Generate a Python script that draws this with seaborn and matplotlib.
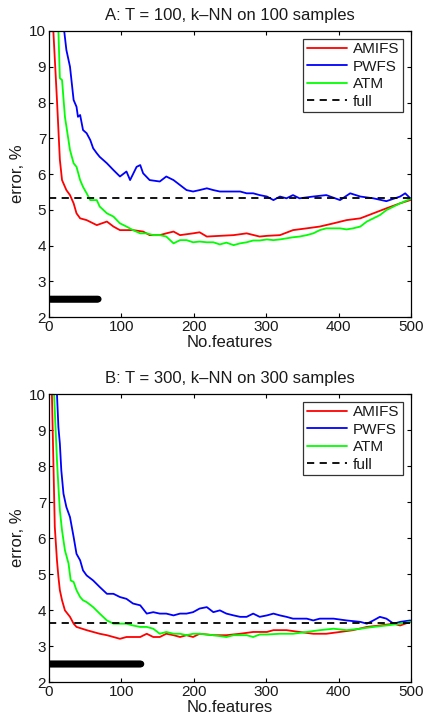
import numpy as np
import pandas as pd
import matplotlib
matplotlib.use("Agg")
import matplotlib.pyplot as plt
import seaborn as sns

# ---------------- Panel A data ----------------
a_amifs_x = [6, 11, 15, 18, 24, 29, 34, 38, 43, 52, 61, 66, 80, 89, 98, 116, 130, 139, 153, 162, 172, 181,
             199, 208, 218, 236, 255, 273, 291, 301, 319, 337, 356, 374, 393, 411, 430, 448, 466, 485, 499]
a_amifs_y = [10.0, 8.07, 6.4, 5.83, 5.55, 5.41, 5.18, 4.9, 4.76, 4.71, 4.62, 4.57, 4.67, 4.53, 4.43, 4.43, 4.39,
             4.29, 4.29, 4.34, 4.39, 4.29, 4.34, 4.37, 4.25, 4.27, 4.29, 4.34, 4.25, 4.27, 4.29, 4.43, 4.48,
             4.53, 4.62, 4.71, 4.76, 4.9, 5.04, 5.18, 5.27]

a_pwfs_x = [21, 24, 29, 34, 38, 40, 43, 47, 52, 57, 61, 66, 70, 80, 89, 98, 107, 112, 121, 126, 130, 139, 153,
            162, 172, 181, 190, 199, 208, 218, 227, 236, 245, 255, 264, 273, 282, 291, 301, 310, 319, 328, 337,
            346, 365, 383, 402, 416, 430, 448, 466, 485, 492, 499]
a_pwfs_y = [10.0, 9.47, 9.0, 8.07, 7.88, 7.6, 7.65, 7.23, 7.14, 6.95, 6.72, 6.58, 6.48, 6.3, 6.11, 5.93, 6.07,
            5.83, 6.2, 6.25, 6.02, 5.83, 5.79, 5.93, 5.83, 5.69, 5.55, 5.51, 5.55, 5.6, 5.55, 5.51, 5.51, 5.51,
            5.51, 5.46, 5.46, 5.41, 5.37, 5.27, 5.37, 5.32, 5.41, 5.32, 5.37, 5.41, 5.27, 5.46, 5.37, 5.32, 5.24,
            5.37, 5.46, 5.32]

a_atm_x = [13, 15, 18, 22, 29, 34, 38, 43, 47, 52, 57, 66, 70, 80, 89, 98, 107, 116, 126, 135, 144, 153, 162,
           172, 181, 190, 199, 208, 218, 227, 236, 245, 255, 264, 273, 282, 291, 301, 310, 319, 328, 337, 346,
           356, 365, 374, 383, 393, 402, 411, 420, 430, 439, 448, 457, 466, 476, 485, 499]
a_atm_y = [10.0, 8.68, 8.63, 7.6, 6.67, 6.3, 6.2, 5.83, 5.64, 5.46, 5.27, 5.27, 5.09, 4.9, 4.81, 4.62, 4.53,
           4.43, 4.34, 4.34, 4.29, 4.29, 4.25, 4.06, 4.15, 4.15, 4.09, 4.11, 4.09, 4.09, 4.03, 4.08, 4.01, 4.06,
           4.09, 4.14, 4.14, 4.17, 4.15, 4.17, 4.2, 4.23, 4.25, 4.29, 4.34, 4.43, 4.48, 4.48, 4.48, 4.45, 4.48,
           4.53, 4.67, 4.76, 4.85, 4.99, 5.09, 5.18, 5.3]

a_full = 5.32
a_sig_last = 68

# ---------------- Panel B data ----------------
b_amifs_x = [4, 6, 8, 11, 13, 15, 18, 22, 29, 34, 38, 52, 61, 70, 80, 89, 98, 107, 116, 126, 135, 144, 153,
             162, 172, 181, 190, 199, 208, 227, 245, 264, 282, 301, 310, 328, 346, 365, 383, 402, 420, 439,
             457, 476, 485, 499]
b_amifs_y = [10.0, 8.16, 6.31, 5.38, 4.92, 4.55, 4.27, 3.99, 3.81, 3.62, 3.53, 3.44, 3.39, 3.34, 3.3, 3.25,
             3.2, 3.25, 3.25, 3.25, 3.34, 3.25, 3.25, 3.34, 3.3, 3.25, 3.3, 3.25, 3.34, 3.3, 3.3, 3.34, 3.39,
             3.39, 3.44, 3.44, 3.39, 3.34, 3.34, 3.39, 3.44, 3.53, 3.57, 3.62, 3.57, 3.67]

b_pwfs_x = [11, 13, 15, 17, 20, 24, 29, 34, 38, 43, 47, 52, 61, 70, 80, 89, 98, 107, 116, 126, 135, 144, 153,
            162, 172, 181, 190, 199, 208, 218, 227, 236, 245, 255, 264, 273, 282, 291, 301, 310, 319, 328, 337,
            346, 356, 365, 374, 393, 411, 430, 439, 448, 457, 466, 476, 485, 499]
b_pwfs_y = [10.0, 9.08, 8.62, 7.88, 7.23, 6.86, 6.58, 6.03, 5.56, 5.38, 5.1, 4.96, 4.82, 4.64, 4.45, 4.45,
            4.36, 4.31, 4.18, 4.13, 3.9, 3.94, 3.9, 3.9, 3.85, 3.9, 3.9, 3.94, 4.04, 4.08, 3.94, 3.99, 3.9,
            3.85, 3.81, 3.81, 3.9, 3.81, 3.85, 3.9, 3.85, 3.81, 3.76, 3.76, 3.76, 3.71, 3.76, 3.76, 3.71, 3.67,
            3.62, 3.71, 3.81, 3.76, 3.62, 3.67, 3.71]

b_atm_x = [7, 8, 11, 13, 15, 18, 22, 27, 30, 34, 38, 43, 47, 52, 61, 70, 80, 89, 98, 107, 116, 126, 135, 144,
           153, 162, 172, 181, 190, 199, 208, 227, 245, 255, 273, 282, 291, 301, 319, 337, 356, 374, 393, 411,
           430, 448, 466, 485, 499]
b_atm_y = [10.0, 9.55, 8.16, 7.42, 6.77, 6.21, 5.66, 5.29, 4.82, 4.78, 4.55, 4.36, 4.27, 4.22, 4.08, 3.9,
           3.71, 3.62, 3.62, 3.62, 3.57, 3.53, 3.53, 3.48, 3.34, 3.39, 3.34, 3.34, 3.3, 3.34, 3.34, 3.3, 3.25,
           3.3, 3.3, 3.25, 3.32, 3.32, 3.34, 3.34, 3.39, 3.44, 3.48, 3.44, 3.48, 3.53, 3.57, 3.62, 3.67]

b_full = 3.64
b_sig_last = 127

method_names = ["AMIFS", "PWFS", "ATM"]
method_colors = ["#ff0000", "#0000ff", "#00ff00"]

sns.set_style("ticks")
plt.rcParams['font.family'] = ['Liberation Sans', 'DejaVu Sans']
plt.rcParams['xtick.direction'] = 'in'
plt.rcParams['ytick.direction'] = 'in'
text_col = "#1a1a1a"

fig = plt.figure(figsize=(4.24, 7.19), dpi=100)

panels = [
    dict(rect=[49/424, 1-317/719, 362/424, 286/719],
         title="A: T = 100, k\u2013NN on 100 samples",
         series=[(a_amifs_x, a_amifs_y), (a_pwfs_x, a_pwfs_y), (a_atm_x, a_atm_y)],
         full=a_full, sig_last=a_sig_last),
    dict(rect=[49/424, 1-682/719, 362/424, 288/719],
         title="B: T = 300, k\u2013NN on 300 samples",
         series=[(b_amifs_x, b_amifs_y), (b_pwfs_x, b_pwfs_y), (b_atm_x, b_atm_y)],
         full=b_full, sig_last=b_sig_last),
]

for p in panels:
    ax = fig.add_axes(p["rect"])
    for (xs, ys), name, col in zip(p["series"], method_names, method_colors):
        df = pd.DataFrame({"x": xs, "y": ys})
        sns.lineplot(data=df, x="x", y="y", color=col, lw=1.3, ax=ax, label=name)
    sns.lineplot(x=[0, 500], y=[p["full"], p["full"]], color="black", lw=1.3,
                 linestyle=(0, (4, 3)), ax=ax, label="full")
    sig_x = np.arange(1, p["sig_last"] + 1)
    sns.scatterplot(x=sig_x, y=np.full(len(sig_x), 2.5), marker="o", s=14,
                    facecolor="none", edgecolor="black", linewidth=1.0, ax=ax, zorder=5)
    ax.set_xlim(0, 500)
    ax.set_ylim(2, 10)
    ax.set_xticks([0, 100, 200, 300, 400, 500])
    ax.set_yticks(range(2, 11))
    ax.tick_params(direction="in", length=3, width=0.8, labelsize=11, pad=2,
                   top=True, right=True, colors="black", labelcolor=text_col)
    for s in ax.spines.values():
        s.set_visible(True)
        s.set_linewidth(0.9)
        s.set_color("black")
    ax.set_xlabel("No.features", fontsize=12, labelpad=1, color=text_col)
    ax.set_ylabel("error, %", fontsize=12, labelpad=3, color=text_col)
    ax.set_title(p["title"], fontsize=12, pad=8, color=text_col)
    leg = ax.legend(loc="upper right", fontsize=11, frameon=True, fancybox=False,
                    edgecolor="black", handlelength=2.6, borderaxespad=0.5,
                    labelspacing=0.22, handletextpad=0.4, borderpad=0.25,
                    labelcolor=text_col)
    leg.get_frame().set_linewidth(0.9)

fig.savefig("out.png", dpi=100)
